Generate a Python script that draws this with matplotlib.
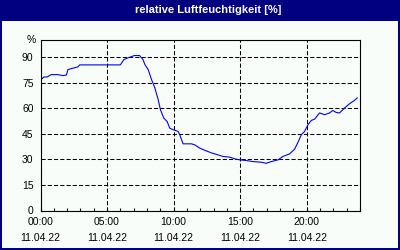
import matplotlib
matplotlib.use("Agg")
import matplotlib.pyplot as plt
from matplotlib.patches import Rectangle
from matplotlib.ticker import MultipleLocator

# Stunden seit 00:00 und rel. Luftfeuchtigkeit in %
hours = [0.0, 0.25, 0.5, 0.8, 1.3, 1.7, 1.95, 2.06, 2.3, 2.8, 2.95, 6.0, 6.26,
         6.56, 7.06, 7.44, 7.7, 7.84, 8.09, 8.34, 8.59, 8.84, 9.01, 9.26, 9.51,
         9.71, 9.96, 10.34, 10.46, 10.71, 11.34, 11.59, 11.96, 12.34, 12.84,
         13.34, 13.71, 14.21, 14.59, 14.96, 15.46, 15.96, 16.59, 16.96, 17.34,
         17.84, 18.21, 18.71, 19.09, 19.34, 19.59, 19.84, 20.09, 20.34, 20.59,
         20.96, 21.34, 21.71, 21.96, 22.21, 22.46, 22.84, 23.21, 23.59, 23.79]
humidity = [76.4, 78.3, 78.3, 79.7, 79.7, 79.1, 79.5, 82.6, 83.2, 84.2, 85.4,
            85.4, 88.5, 89.5, 90.9, 90.9, 88.5, 85.6, 82.6, 76.8, 71.9, 65.0,
            59.1, 54.2, 52.2, 48.3, 47.4, 46.4, 44.4, 39.1, 39.1, 38.5, 36.6,
            35.3, 33.8, 32.6, 31.7, 31.3, 30.3, 29.7, 29.3, 28.7, 28.3, 27.7,
            28.7, 29.7, 31.7, 33.2, 36.0, 40.0, 44.4, 46.4, 50.3, 52.8, 53.6,
            57.2, 56.2, 57.2, 58.7, 57.5, 57.2, 60.1, 62.6, 64.6, 66.0]

x_ticks = [0, 5, 10, 15, 20]
x_labels = ["00:00\n\n11.04.22", "05:00\n\n11.04.22", "10:00\n\n11.04.22",
            "15:00\n\n11.04.22", "20:00\n\n11.04.22"]
y_ticks = [0, 15, 30, 45, 60, 75, 90]

navy = "#000080"
bg = "#f9fdf9"
plt.rcParams["font.family"] = ["Liberation Sans Narrow", "Liberation Sans",
                               "DejaVu Sans"]
fs = 7.5

fig = plt.figure(figsize=(4, 2.5), dpi=100, facecolor=navy)
fig.patches.append(Rectangle((2 / 400, 2 / 250), 396 / 400, 227 / 250,
                             transform=fig.transFigure, facecolor=bg,
                             edgecolor="none", zorder=-10))
fig.text(208.5 / 400, 1 - 10 / 250, "relative Luftfeuchtigkeit [%]",
         color="white", fontsize=8, fontweight="bold",
         family=["Liberation Sans", "DejaVu Sans"],
         ha="center", va="center")

ax = fig.add_axes([40.5 / 400, 39.5 / 250, 319.5 / 400, 170.5 / 250])
ax.set_facecolor(bg)
ax.plot(hours, humidity, color="#0000ff", lw=0.8)

ax.set_xlim(0, 24)
ax.set_ylim(0, 100)
ax.set_xticks(x_ticks)
ax.set_xticklabels(x_labels, linespacing=0.75)
ax.xaxis.set_minor_locator(MultipleLocator(1))
ax.set_yticks(y_ticks)
ax.tick_params(axis="x", which="both", direction="in", length=2.5, width=0.8,
               labelsize=fs, pad=5)
ax.tick_params(axis="y", length=0, labelsize=fs, pad=5)
ax.text(-0.014, 100, "%", transform=ax.get_yaxis_transform(), fontsize=fs,
        ha="right", va="center")

ax.grid(True, which="major", color="black", lw=0.75, linestyle=(0, (4, 2)))
for s in ax.spines.values():
    s.set_color("black")
    s.set_linewidth(0.8)

fig.savefig("out.png", dpi=100, facecolor=navy)
